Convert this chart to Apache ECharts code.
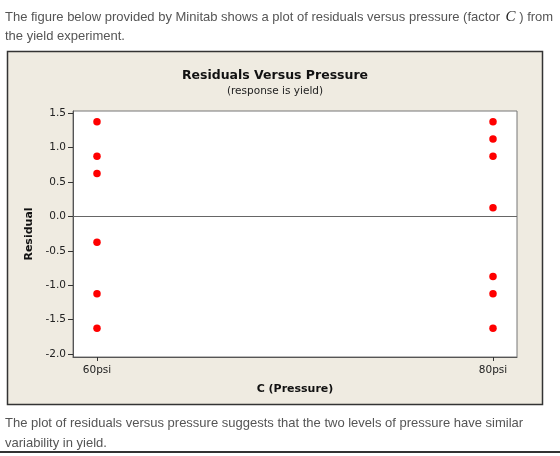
<!DOCTYPE html>
<html>
<head>
<meta charset="utf-8">
<script src="https://cdn.jsdelivr.net/npm/echarts@6/dist/echarts.min.js"></script>
<style>html,body{margin:0;padding:0;background:#fff;}#c{width:560px;height:456px;}</style>
</head>
<body>
<div id="c"></div>
<script>
const categories = ['60psi', '80psi'];
const residuals60 = [1.375, 0.875, 0.625, -0.375, -1.125, -1.625];
const residuals80 = [1.375, 1.125, 0.875, 0.125, -0.875, -1.125, -1.625];
const yTicks = [-2.0, -1.5, -1.0, -0.5, 0.0, 0.5, 1.0, 1.5];

const pts = [];
residuals60.forEach(v => pts.push([0, v]));
residuals80.forEach(v => pts.push([1, v]));

const chart = echarts.init(document.getElementById('c'), null, {renderer: 'canvas'});
const tf = 'Liberation Sans, Arial, sans-serif';
const mf = 'DejaVu Sans, Tahoma, sans-serif';
chart.setOption({
  animation: false,
  graphic: [
    {type: 'rect', z: -10, shape: {x: 7.5, y: 51.5, width: 535, height: 353},
     style: {fill: '#EFEBE1', stroke: '#333', lineWidth: 1.5}},
    {type: 'line', z: -10, shape: {x1: 0, y1: 452, x2: 560, y2: 452},
     style: {stroke: '#333', lineWidth: 2}}
  ],
  title: [
    {
      text: '{a|The figure below provided by Minitab shows a plot of residuals versus pressure (factor }{c|C}{a| ) from}\n{a|the yield experiment.}',
      left: 5, top: 8, padding: 0,
      textStyle: {
        fontWeight: 'normal',
        rich: {
          a: {fontFamily: tf, fontSize: 13, fontWeight: 'normal', color: '#555', lineHeight: 19},
          c: {fontFamily: 'Liberation Serif, serif', fontStyle: 'italic', fontWeight: 'normal', fontSize: 15, color: '#222', lineHeight: 19, padding: [0, 0, 0, 2]}
        }
      }
    },
    {
      text: 'The plot of residuals versus pressure suggests that the two levels of pressure have similar\nvariability in yield.',
      left: 5, top: 413, padding: 0,
      textStyle: {fontFamily: tf, fontSize: 13, color: '#555', fontWeight: 'normal', lineHeight: 20}
    },
    {
      text: 'Residuals Versus Pressure',
      subtext: '(response is yield)',
      left: 275, textAlign: 'center', top: 69, padding: 0, itemGap: 4,
      textStyle: {fontFamily: mf, fontSize: 12.5, fontWeight: 'bold', color: '#111'},
      subtextStyle: {fontFamily: mf, fontSize: 10.5, color: '#222'}
    }
  ],
  grid: {
    left: 73, top: 111, right: 43, bottom: 99,
    show: true, backgroundColor: '#fff', borderColor: '#777', borderWidth: 1
  },
  xAxis: {
    type: 'value', min: -0.0606, max: 1.0606,
    name: 'C (Pressure)', nameLocation: 'middle', nameGap: 27,
    nameTextStyle: {fontFamily: mf, fontSize: 11, fontWeight: 'bold', color: '#111'},
    axisLine: {onZero: false, lineStyle: {color: '#555', width: 1}},
    axisTick: {show: true, length: 4, customValues: [0, 1], lineStyle: {color: '#333'}},
    axisLabel: {customValues: [0, 1], formatter: v => categories[Math.round(v)],
      fontFamily: mf, fontSize: 10.5, color: '#222', margin: 8},
    splitLine: {show: false}
  },
  yAxis: {
    type: 'value', min: -2.044, max: 1.533,
    name: 'Residual', nameLocation: 'middle', nameGap: 36, nameRotate: 90,
    nameTextStyle: {fontFamily: mf, fontSize: 11, fontWeight: 'bold', color: '#111'},
    axisLine: {onZero: false, lineStyle: {color: '#555', width: 1}},
    axisTick: {show: true, length: 5, customValues: yTicks, lineStyle: {color: '#333'}},
    axisLabel: {customValues: yTicks, formatter: v => v.toFixed(1),
      fontFamily: mf, fontSize: 10.5, color: '#222', margin: 7},
    splitLine: {show: false}
  },
  series: [{
    type: 'scatter',
    data: pts,
    symbol: 'circle', symbolSize: 7.5,
    itemStyle: {color: '#FF0000', opacity: 1},
    markLine: {
      silent: true, symbol: 'none', label: {show: false},
      lineStyle: {color: '#666', type: 'solid', width: 1},
      data: [{yAxis: 0}]
    }
  }]
});
</script>
</body>
</html>
